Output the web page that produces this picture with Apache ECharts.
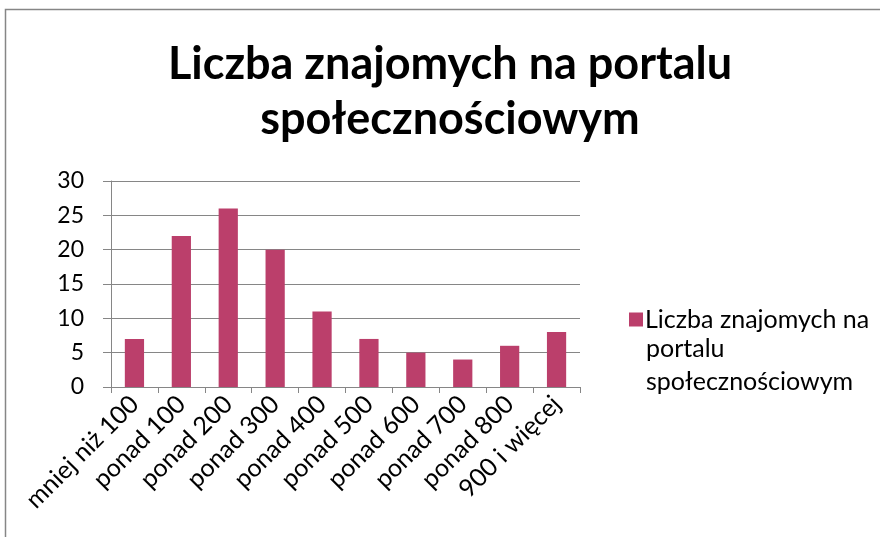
<!DOCTYPE html>
<html>
<head>
<meta charset="utf-8">
<script src="https://cdn.jsdelivr.net/npm/echarts@6/dist/echarts.min.js"></script>
<style>
  html, body { margin: 0; padding: 0; background: #fff; }
  #chart { width: 880px; height: 537px; }
</style>
</head>
<body>
<div id="chart"></div>
<script>
const categories = ["mniej niż 100", "ponad 100", "ponad 200", "ponad 300", "ponad 400",
  "ponad 500", "ponad 600", "ponad 700", "ponad 800", "900 i więcej"];
const values = [7, 22, 26, 20, 11, 7, 5, 4, 6, 8];
const seriesName = "Liczba znajomych na portalu społecznościowym";
// legenda zawija sie w trzech liniach, ikona stoi przy pierwszej
const legendFirstLine = "Liczba znajomych na";
const legendRest = "portalu\nspołecznościowym";

const font = "Lato, 'Open Sans', sans-serif";
const chart = echarts.init(document.getElementById("chart"));

const option = {
  animation: false,
  title: {
    text: "Liczba znajomych na portalu\nspołecznościowym",
    left: 445,
    top: 32,
    textAlign: "center",
    textStyle: {
      fontFamily: font,
      fontWeight: "bold",
      fontSize: 45,
      lineHeight: 55,
      color: "#000",
    },
  },
  graphic: [
    {
      type: "rect",
      shape: { x: 5.5, y: 9.5, width: 900, height: 600 },
      style: { fill: null, stroke: "#868686", lineWidth: 1.5 },
      silent: true,
    },
    {
      type: "text",
      left: 646,
      top: 332,
      style: {
        text: legendRest,
        font: "25px " + font,
        lineHeight: 33,
        fill: "#000",
      },
      silent: true,
    },
  ],
  legend: {
    left: 624,
    top: 298,
    orient: "vertical",
    itemWidth: 14,
    itemHeight: 14,
    icon: "rect",
    formatter: () => legendFirstLine,
    textStyle: {
      fontFamily: font,
      fontSize: 25,
      lineHeight: 33,
      color: "#000",
      padding: [0, 0, 0, -3],
    },
    data: [seriesName],
  },
  grid: {
    left: 111,
    top: 181,
    width: 469,
    height: 206,
  },
  xAxis: {
    type: "category",
    data: categories,
    axisLine: { lineStyle: { color: "#868686", width: 1 } },
    axisTick: { show: true, length: 6, alignWithLabel: false, lineStyle: { color: "#868686" } },
    axisLabel: {
      rotate: 45,
      interval: 0,
      margin: 13,
      fontFamily: font,
      fontSize: 25,
      color: "#000",
    },
  },
  yAxis: {
    type: "value",
    min: 0,
    max: 30,
    interval: 5,
    axisLine: { show: true, lineStyle: { color: "#868686", width: 1 } },
    axisTick: { show: true, length: 8, lineStyle: { color: "#868686" } },
    splitLine: { lineStyle: { color: "#868686", width: 1 } },
    axisLabel: {
      margin: 27,
      fontFamily: font,
      fontSize: 23,
      color: "#000",
    },
  },
  series: [
    {
      name: seriesName,
      type: "bar",
      data: values,
      barWidth: "41%",
      itemStyle: { color: "#BB3F6B" },
    },
  ],
};
chart.setOption(option);
</script>
</body>
</html>
